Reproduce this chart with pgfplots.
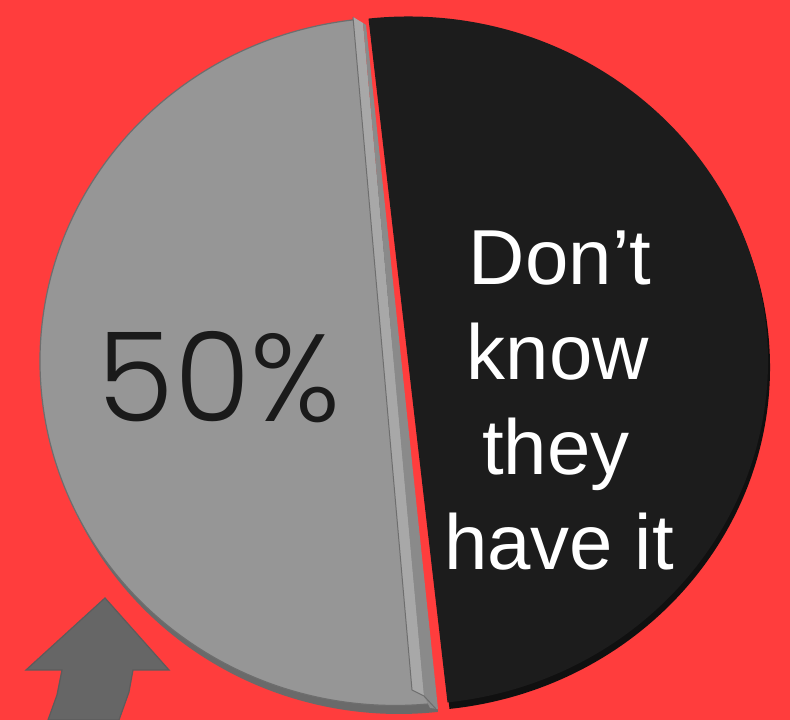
\documentclass[border=0pt]{standalone}
\usepackage{fontspec}
\usepackage{pgfplots}
\usepackage{pgfplotstable}
\pgfplotsset{compat=1.18}
\setmainfont{Liberation Sans}
\newfontfamily\pop{Poppins}[UprightFont={* Light}]
\definecolor{bg}{HTML}{FF3D3D}
\definecolor{gface}{HTML}{969696}
\definecolor{grim}{HTML}{6A6A6A}
\definecolor{gline}{HTML}{6E6E6E}
\definecolor{gside}{HTML}{A8A8A8}
\definecolor{gside2}{HTML}{8A8A8A}
\definecolor{bface}{HTML}{1C1C1C}
\definecolor{brim}{HTML}{101010}
\definecolor{arrowc}{HTML}{666666}
\definecolor{arrowl}{HTML}{5C5C5C}
\definecolor{pcttext}{HTML}{1A1A1A}

\pgfplotstableread{
label value
know 50
dontknow 50
}\piedata

\begin{document}
\begin{tikzpicture}
\pgfplotstablegetelem{0}{value}\of\piedata
\pgfmathsetmacro{\angA}{\pgfplotsretval*3.6}
\pgfmathsetmacro{\sA}{96.3}
\pgfmathsetmacro{\eA}{\sA+\angA}
\pgfmathsetmacro{\eB}{\eA+360-\angA}
\begin{axis}[hide axis, scale only axis, width=395bp, height=360bp,
  xmin=0, xmax=790, ymin=0, ymax=720, clip=true]
% background
\addplot[fill=bg, draw=none] coordinates {(0,0) (790,0) (790,720) (0,720)} -- cycle;
% gray slice: rim (3D thickness)
\fill[grim] (axis cs:399,350) ++(\sA:177.5bp and 172bp) arc[start angle=\sA, end angle=\eA, x radius=177.5bp, y radius=172bp] -- cycle;
% gray face
\fill[gface, draw=gline, line width=0.6bp] (axis cs:395,358.5) ++(\sA:177.5bp and 172bp) arc[start angle=\sA, end angle=\eA, x radius=177.5bp, y radius=172bp] -- cycle;
% gray side strips (thickness along the cut)
\fill[gside] (axis cs:353,703) -- (axis cs:363,697) -- (axis cs:424,24) -- (axis cs:412,30) -- cycle;
\fill[gside2] (axis cs:363,697) -- (axis cs:366,695) -- (axis cs:438,11) -- (axis cs:430,12) -- (axis cs:424,24) -- cycle;
\draw[gline, line width=0.5bp] (axis cs:353,703) -- (axis cs:412,30) -- (axis cs:424,24) -- (axis cs:436,11);
% black slice: rim
\fill[brim] (axis cs:410,353) ++(\eA:180bp and 172bp) arc[start angle=\eA, end angle=\eB, x radius=180bp, y radius=172bp] -- cycle;
% black face
\fill[bface] (axis cs:408,359.5) ++(\eA:180bp and 172bp) arc[start angle=\eA, end angle=\eB, x radius=180bp, y radius=172bp] -- cycle;
% arrow
\addplot[fill=arrowc, draw=arrowl, line width=0.6bp] coordinates {
  (105,122) (169,50) (133,50) (129,28) (119,0) (48,0) (57,25) (62,50) (26,50)
} -- cycle;
% labels
\node[anchor=base, text=pcttext, font=\pop\fontsize{62bp}{70bp}\selectfont] at (axis cs:219,298) {50\%};
\node[anchor=base, text=white, font=\fontsize{39bp}{47bp}\selectfont] at (axis cs:560,435) {Don’t};
\node[anchor=base, text=white, font=\fontsize{39bp}{47bp}\selectfont] at (axis cs:558,340) {know};
\node[anchor=base, text=white, font=\fontsize{39bp}{47bp}\selectfont] at (axis cs:556,245) {they};
\node[anchor=base, text=white, font=\fontsize{39bp}{47bp}\selectfont] at (axis cs:559,150) {have it};
\end{axis}
\end{tikzpicture}
\end{document}
